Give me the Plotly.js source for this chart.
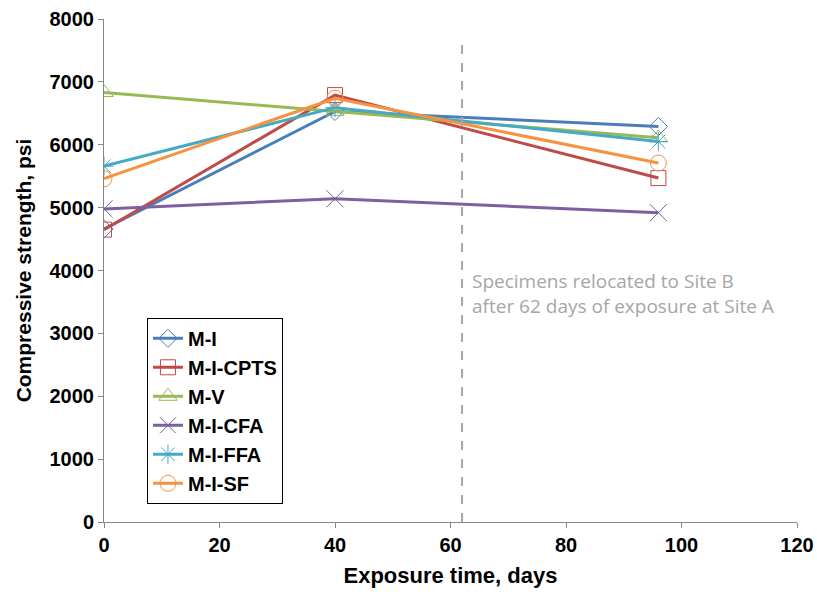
<!DOCTYPE html>
<html><head><meta charset="utf-8">
<script src="https://cdn.plot.ly/plotly-3.0.1.min.js"></script>
<style>html,body{margin:0;padding:0;background:#fff}#chart{width:817px;height:592px}</style>
</head><body><div id="chart"></div>
<script>
const days = [0, 40, 96];
const seriesNames = ["M-I", "M-I-CPTS", "M-V", "M-I-CFA", "M-I-FFA", "M-I-SF"];
const mI     = [4660, 6530, 6290];
const mICPTS = [4650, 6790, 5470];
const mV     = [6830, 6530, 6110];
const mICFA  = [4980, 5140, 4920];
const mIFFA  = [5660, 6590, 6050];
const mISF   = [5460, 6740, 5710];
const relocationDay = 62;
const xTicks = [0, 20, 40, 60, 80, 100, 120];
const yTicks = [0, 1000, 2000, 3000, 4000, 5000, 6000, 7000, 8000];

const values = [mI, mICPTS, mV, mICFA, mIFFA, mISF];
const colors = ["#4A7EBB", "#BE4B48", "#98B954", "#7D60A0", "#46AAC5", "#F69240"];
const symbols = ["diamond-open", "square-open", "triangle-up-open", "x-thin-open", "asterisk-open", "circle-open"];
const sizes = [14, 15, 16, 17, 16, 16];

const traces = values.map((v, i) => ({
  x: days, y: v, name: seriesNames[i], type: "scatter", mode: "lines+markers",
  line: {color: colors[i], width: 3},
  marker: {symbol: symbols[i], size: sizes[i], color: colors[i], line: {color: colors[i], width: 1}}
}));
traces.push({
  x: [relocationDay, relocationDay], y: [0, 7700], mode: "lines", showlegend: false,
  line: {color: "#A6A6A6", width: 2, dash: "dash"}, hoverinfo: "skip"
});

const fam = "Liberation Sans, Arial, sans-serif";
const layout = {
  width: 817, height: 592,
  margin: {l: 104, r: 20, t: 19, b: 70},
  paper_bgcolor: "#fff", plot_bgcolor: "#fff",
  showlegend: true,
  legend: {x: 0.062, y: 0.406, xanchor: "left", yanchor: "top",
    bordercolor: "#000", borderwidth: 1, bgcolor: "#fff",
    font: {family: fam, size: 20, color: "#000", weight: "bold"},
    itemwidth: 30},
  xaxis: {range: [0, 120], tickvals: xTicks, showgrid: false, zeroline: false,
    showline: true, linecolor: "#868686", linewidth: 1, ticks: "outside", ticklen: 5, tickcolor: "#868686",
    tickfont: {family: fam, size: 20, color: "#000", weight: "bold"},
    title: {text: "Exposure time, days", font: {family: fam, size: 22, color: "#000", weight: "bold"}, standoff: 12}},
  yaxis: {range: [0, 8000], tickvals: yTicks, showgrid: false, zeroline: false,
    showline: true, linecolor: "#868686", linewidth: 1, ticks: "outside", ticklen: 5, tickcolor: "#868686",
    tickfont: {family: fam, size: 20, color: "#000", weight: "bold"},
    title: {text: "Compressive strength, psi", font: {family: fam, size: 21, color: "#000", weight: "bold"}, standoff: 12}},
  annotations: [{
    x: relocationDay, y: 3630, xref: "x", yref: "y", xanchor: "left", yanchor: "middle", xshift: 8,
    showarrow: false, align: "left",
    text: "Specimens relocated to Site B<br>after 62 days of exposure at Site A",
    font: {family: "Open Sans, sans-serif", size: 19, color: "#A6A6A6"}
  }]
};
Plotly.newPlot("chart", traces, layout, {displayModeBar: false, staticPlot: true});
</script></body></html>
